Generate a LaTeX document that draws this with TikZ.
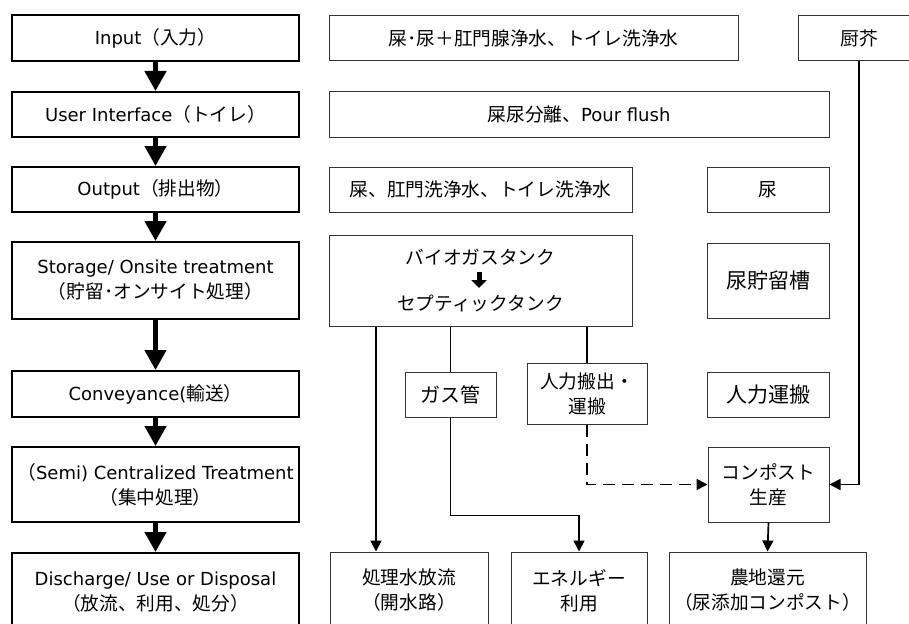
\documentclass[tikz,border=0pt]{standalone}
\usepackage{fontspec}
\setmainfont{Noto Sans CJK JP}
\newfontfamily\latfam{DejaVu Sans}
\newcommand\LatTxt[1]{{\latfam\fontsize{18}{25}\selectfont #1}}
\usetikzlibrary{arrows.meta}
\begin{document}
\begin{tikzpicture}[x=1pt,y=-1pt,
  font=\fontsize{18.7}{25}\selectfont,
  big/.style={font=\fontsize{21}{25}\selectfont},
  lbox/.style={draw=black, line width=2pt, minimum width=287pt, align=center, inner sep=0pt},
  rbox/.style={draw=black!80, line width=1pt, align=center, inner sep=0pt},
  bigarrow/.style={line width=4.5pt, -{Triangle[length=20pt,width=21pt]}},
  conn/.style={line width=1.7pt},
  tip/.style={-{Triangle[length=11pt,width=11pt]}},
  dashline/.style={line width=1.7pt, dash pattern=on 12pt off 7pt}
]
\useasboundingbox (0,0) rectangle (909,623);
\clip (0,0) rectangle (909,623);

% left column
\node[lbox, minimum height=46pt] (in)   at (155.5,38)    {\LatTxt{Input}（入力）};
\node[lbox, minimum height=45pt] (ui)   at (155.5,114.5) {\LatTxt{User Interface}（トイレ）};
\node[lbox, minimum height=45pt] (out)  at (155.5,189.5) {\LatTxt{Output}（排出物）};
\node[lbox, minimum height=77pt] (sto)  at (155.5,280.5) {\LatTxt{Storage/ Onsite treatment}\\（貯留･オンサイト処理）};
\node[lbox, minimum height=46pt] (conv) at (155.5,394)   {\LatTxt{Conveyance(}輸送）};
\node[lbox, minimum height=75pt] (semi) at (155.5,484.5) {（\LatTxt{Semi) Centralized Treatment}\\（集中処理）};
\node[lbox, minimum height=79pt] (dis)  at (155.5,592.5) {\LatTxt{Discharge/ Use or Disposal}\\（放流、利用、処分）};

\draw[bigarrow] (in) -- (ui);
\draw[bigarrow] (ui) -- (out);
\draw[bigarrow] (out) -- (sto);
\draw[bigarrow] (sto) -- (conv);
\draw[bigarrow] (conv) -- (semi);
\draw[bigarrow] (semi) -- (dis);

% right part
\node[rbox, minimum width=409pt, minimum height=45pt] (r1)   at (533.5,38.5)  {屎･尿＋肛門腺浄水、トイレ洗浄水};
\node[rbox, minimum width=122pt, minimum height=45pt] (kit)  at (859,38.5)    {厨芥};
\node[rbox, minimum width=500pt, minimum height=45pt] (sep)  at (579,114.5)   {屎尿分離、\LatTxt{Pour flush}};
\node[rbox, minimum width=303pt, minimum height=45pt] (fec)  at (480.5,189.5) {屎、肛門洗浄水、トイレ洗浄水};
\node[rbox, minimum width=122pt, minimum height=45pt] (uri)  at (768,189.5)   {尿};
\node[rbox, minimum width=303pt, minimum height=91pt] (bio)  at (480.5,280.5) {バイオガスタンク\\[21pt]セプティックタンク};
\node[rbox, big, minimum width=122pt, minimum height=75pt] (ust)  at (768,280.5)   {尿貯留槽};
\node[rbox, font=\fontsize{20}{25}\selectfont, minimum width=91pt,  minimum height=45pt] (gas)  at (450.5,394.5) {ガス管};
\node[rbox, minimum width=120pt, minimum height=61pt] (man)  at (587,393.5)   {人力搬出・\\運搬};
\node[rbox, big, minimum width=122pt, minimum height=45pt] (mt)   at (768,394.5)   {人力運搬};
\node[rbox, minimum width=121pt, minimum height=75pt] (comp) at (768.5,484.5) {コンポスト\\生産};
\node[rbox, minimum width=158pt, minimum height=77pt] (wat)  at (409,590.5)   {処理水放流\\（開水路）};
\node[rbox, minimum width=136pt, minimum height=77pt] (ene)  at (579,590.5)   {エネルギー\\利用};
\node[rbox, minimum width=197pt, minimum height=77pt] (farm) at (767.5,590.5) {農地還元\\（尿添加コンポスト）};

% small bold arrow inside biogas box
\coordinate (ba1) at (479,272);
\coordinate (ba2) at (479,288);
\draw[line width=5pt, -{Triangle[length=8pt,width=15pt]}] (ba1) -- (ba2);

% connectors
\coordinate (xw) at (376,0);
\draw[conn,tip] (bio.south -| xw) -- (wat.north -| xw);
\draw[conn] (bio.south -| gas.north) -- (gas.north);
\draw[conn,tip] (gas.south) -- ++(0,98) -| (ene.north);
\draw[conn] (bio.south -| man.north) -- (man.north);
\draw[dashline,tip] (man.south) |- (comp.west);
\draw[conn,tip] (kit.south) |- (comp.east);
\draw[conn,tip] (comp.south) -- (farm.north);
\end{tikzpicture}
\end{document}
